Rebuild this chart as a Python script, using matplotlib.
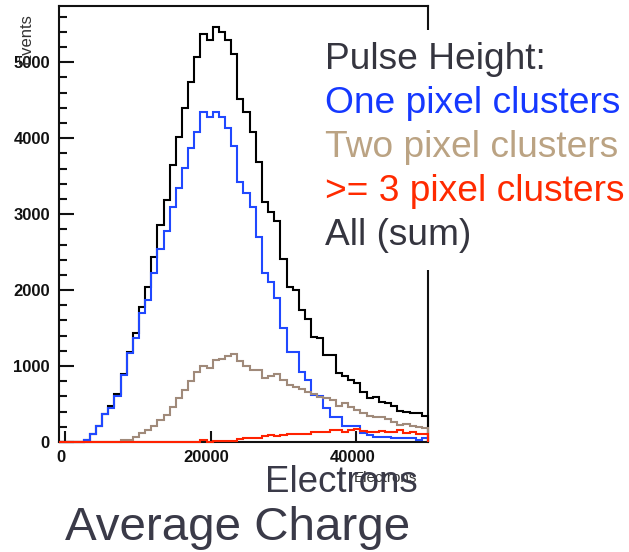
import numpy as np
import matplotlib
matplotlib.use("Agg")
import matplotlib.pyplot as plt
from matplotlib.patches import Rectangle
from matplotlib.transforms import ScaledTranslation

plt.rcParams['font.family'] = ['Liberation Sans', 'DejaVu Sans']

# Histogram binning (electrons): one bin below zero, then 59 bins
BIN_WIDTH = 845
N_BINS = 60

# Cluster-charge histograms, entries per bin (first bin is the [-845, 0) bin)
one_pixel = [0,
    0, 0, 0, 25, 100, 210, 365, 443, 605, 880,
    1167, 1365, 1700, 1870, 2230, 2535, 2780, 3100, 3350, 3610,
    3877, 4079, 4346, 4285, 4346, 4285, 4140, 3900, 3420, 3272,
    3100, 2693, 2228, 2110, 1890, 1504, 1180, 1180, 915, 816,
    618, 600, 443, 333, 333, 210, 210, 210, 122, 92,
    70, 70, 70, 48, 48, 48, 48, 26, 48]

two_pixel = [0,
    0, 0, 0, 0, 0, 0, 0, 0, 0, 20,
    25, 70, 114, 160, 215, 290, 360, 460, 580, 690,
    800, 920, 1000, 975, 1075, 1090, 1130, 1160, 1060, 995,
    950, 950, 840, 875, 895, 816, 750, 719, 693, 662,
    627, 596, 575, 553, 474, 517, 465, 421, 377, 342,
    325, 325, 298, 268, 224, 237, 210, 202, 180]

three_plus = [0,
    0, 0, 0, 0, 0, 0, 0, 0, 0, 0,
    0, 0, 0, 0, 0, 0, 0, 0, 0, 0,
    0, 0, 30, 5, 15, 15, 15, 15, 45, 50,
    50, 50, 80, 92, 75, 95, 100, 105, 110, 110,
    127, 130, 127, 158, 158, 136, 158, 167, 149, 136,
    136, 149, 127, 127, 158, 114, 136, 101, 101]

all_sum = [0,
    0, 0, 0, 25, 100, 210, 365, 475, 630, 895,
    1180, 1438, 1780, 2040, 2430, 2855, 3190, 3645, 4017, 4400,
    4741, 5070, 5368, 5290, 5465, 5395, 5290, 5114, 4522, 4340,
    4083, 3688, 3162, 3030, 2912, 2404, 2040, 1995, 1737, 1622,
    1386, 1364, 1145, 1145, 910, 868, 816, 772, 662, 575,
    596, 531, 509, 474, 412, 390, 377, 377, 346]

x_ticks = [0, 20000, 40000]
y_ticks = [0, 1000, 2000, 3000, 4000, 5000]

legend_lines = ["Pulse Height:", "One pixel clusters", "Two pixel clusters",
                ">= 3 pixel clusters", "All (sum)"]
legend_colors = ["#35353f", "#1538ff", "#bba383", "#ff2a00", "#35353f"]

edges = (np.arange(N_BINS + 1) - 1) * BIN_WIDTH

W, H = 629, 552
fig = plt.figure(figsize=(W / 100, H / 100), dpi=100)
ax = fig.add_axes([59 / W, 110 / H, 369 / W, 436 / H])

def fx(px):
    return px / W

def fy(py):
    return 1 - py / H

series = [
    (all_sum, "#000000", 3.0),
    (one_pixel, "#2048ff", 3.1),
    (two_pixel, "#a08a7a", 3.2),
    (three_plus, "#ff2200", 3.3),
]
for vals, col, z in series:
    ax.stairs(vals, edges, color=col, lw=1.5, zorder=z, clip_on=False)

ax.set_xlim(edges[0], edges[-1])
ax.set_ylim(0, 5740)

for sp in ax.spines.values():
    sp.set_linewidth(1.5)
    sp.set_color("#111111")

ax.set_xticks(x_ticks)
ax.set_xticklabels([str(v) for v in x_ticks])
ax.set_yticks(y_ticks)
ax.set_yticklabels([str(v) for v in y_ticks])
ax.set_yticks(np.arange(0, 5740, 200), minor=True)

ax.tick_params(axis='y', which='major', direction='in', length=10.8, width=1.5,
               pad=6.5, labelsize=12, colors="#111111")
ax.tick_params(axis='y', which='minor', direction='in', length=5.5, width=1.5,
               colors="#111111")
ax.tick_params(axis='x', which='major', direction='in', length=8, width=1.5,
               pad=5.5, labelsize=12, colors="#111111")
ax.tick_params(axis='x', which='minor', length=0)

shift = ScaledTranslation(-4 / 100, 0, fig.dpi_scale_trans)
for lab in ax.get_xticklabels():
    lab.set_fontweight('bold')
    lab.set_transform(lab.get_transform() + shift)
for lab in ax.get_yticklabels():
    lab.set_fontweight('bold')

# axis titles
fig.text(fx(26), fy(13), "Events", rotation=90, ha='center', va='top',
         fontsize=12, color="#333333")
fig.text(fx(417), fy(478), "Electrons", ha='right', va='center',
         fontsize=11, color="#333333")

# legend block on a white panel
fig.add_artist(Rectangle((fx(318), fy(270)), (W - 318) / W, (270 - 30) / H,
                         transform=fig.transFigure, facecolor='white',
                         edgecolor='none', zorder=5))
for i, (txt, col) in enumerate(zip(legend_lines, legend_colors)):
    fig.text(fx(325), fy(69 + 44 * i), txt, ha='left', va='baseline',
             fontsize=26.7, color=col, zorder=6)

fig.text(fx(265), fy(491.7), "Electrons", ha='left', va='baseline',
         fontsize=26.4, color="#3a3a48", zorder=6)
fig.text(fx(65), fy(540), "Average Charge", ha='left', va='baseline',
         fontsize=34.2, color="#3a3a48", zorder=6)

fig.savefig("out.png", dpi=100)
